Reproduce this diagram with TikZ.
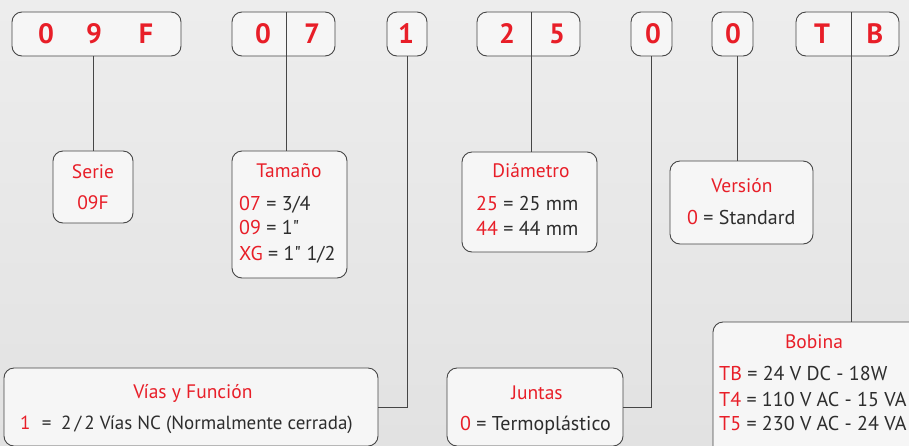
\documentclass[tikz,border=0pt]{standalone}
\usepackage{fontspec}
\setmainfont{PT Sans}
\usepackage{xcolor}
\definecolor{codered}{RGB}{232,30,40}
\definecolor{codetext}{RGB}{45,45,45}
\definecolor{boxline}{RGB}{70,70,70}
\definecolor{boxfill}{RGB}{246,246,246}
\definecolor{bgtop}{RGB}{237,237,237}
\definecolor{bgbot}{RGB}{226,226,226}
\tikzset{
  codebox/.style={draw=boxline, fill=boxfill, line width=0.9pt, rounded corners=10pt, minimum height=44pt, inner sep=0pt},
  infobox/.style={draw=boxline, fill=boxfill, line width=0.9pt, rounded corners=10pt, inner sep=0pt},
  digit/.style={text=codered, font=\fontsize{28}{30}\selectfont\bfseries},
  title/.style={text=codered, font=\fontsize{19.5}{22}\selectfont, anchor=base, inner sep=0pt},
  entry/.style={text=codetext, font=\fontsize{20}{22}\selectfont, anchor=base west, inner sep=0pt},
  link/.style={draw=boxline, line width=0.9pt}
}
\newcommand{\rd}[1]{\textcolor{codered}{#1}}
\begin{document}
\begin{tikzpicture}[x=1pt, y=-1pt]
  \useasboundingbox (0,0) rectangle (909,445);
  \clip (0,0) rectangle (909,445);
  \shade[top color=bgtop, bottom color=bgbot] (0,0) rectangle (909,445);

  \node[codebox, minimum width=169pt] (t09F) at (96.5,34) {};
  \node[codebox, minimum width=103pt] (t07) at (283.5,34) {};
  \node[codebox, minimum width=40pt] (t1) at (407,34) {};
  \node[codebox, minimum width=103pt] (t25) at (528.5,34) {};
  \node[codebox, minimum width=41pt] (t0a) at (651.5,34) {};
  \node[codebox, minimum width=41pt] (t0b) at (732.5,34) {};
  \node[codebox, minimum width=103pt] (tTB) at (847.5,34) {};
  \coordinate (d07) at (286,12);
  \coordinate (d25) at (531,12);
  \coordinate (dTB) at (851,12);
  \coordinate (d0b) at (737,56);

  \node[digit] (c1) at (46,34) {0}; \node[digit] (c2) at (94,34) {9}; \node[digit] (c3) at (146,34) {F};
  \node[digit] (c4) at (263,34) {0}; \node[digit] (c5) at (312,34) {7};
  \node[digit] (c6) at (406,34) {1};
  \node[digit] (c7) at (507,34) {2}; \node[digit] (c8) at (557,34) {5};
  \node[digit] (c9) at (653,34) {0};
  \node[digit] (c10) at (733,34) {0};
  \node[digit] (c11) at (822,34) {T}; \node[digit] (c12) at (875,34) {B};

  \node[infobox, minimum width=80pt, minimum height=72pt] (serie) at (93,187) {};
  \node[infobox, minimum width=115pt, minimum height=127pt] (tam) at (289.5,214.5) {};
  \node[infobox, minimum width=135pt, minimum height=100pt] (diam) at (529.5,202) {};
  \node[infobox, minimum width=143pt, minimum height=83pt] (vers) at (741.5,202.5) {};
  \node[infobox, minimum width=374pt, minimum height=78pt] (vias) at (191,407) {};
  \node[infobox, minimum width=176pt, minimum height=78pt] (junt) at (535,407) {};
  \node[infobox, minimum width=212pt, minimum height=138pt] (bob) at (819,391) {};

  \draw[link] (t09F.south -| serie.north) -- (serie.north);
  \draw[link] (d07) -- (d07 |- tam.north);
  \draw[link] (t1.south) |- (vias.east);
  \draw[link] (d25) -- (d25 |- diam.north);
  \draw[link] (t0a.south) |- (junt.east);
  \draw[link] (d0b) -- (d0b |- vers.north);
  \draw[link] (dTB) -- (dTB |- bob.north);

  \node[title] (serieT) at (93,178) {Serie};
  \node[title] (serieL) at (93,209) {09F};

  \node[title] (tamT) at (289,177) {Tamaño};
  \node[entry] (tamA) at (239,210) {\rd{07} = 3/4};
  \node[entry] (tamB) at (239,234) {\rd{09} = 1\textquotedbl};
  \node[entry] (tamC) at (239,260) {\rd{XG} = 1\textquotedbl{} 1/2};

  \node[title] (diamT) at (531,177) {Diámetro};
  \node[entry] (diamA) at (476,210) {\rd{25} = 25 mm};
  \node[entry] (diamB) at (476,235) {\rd{44} = 44 mm};

  \node[title] (versT) at (742,192) {Versión};
  \node[entry] (versA) at (687,224) {\rd{0} = Standard};

  \node[title] (viasT) at (193,398) {Vías y Función};
  \node[entry, font=\fontsize{19}{22}\selectfont] (viasA) at (20,429) {\rd{1}\hspace{0.6em}=\hspace{0.5em}2\,/\,2 Vías NC (Normalmente cerrada)};

  \node[title] (juntT) at (537,399) {Juntas};
  \node[entry] (juntA) at (460,430) {\rd{0} = Termoplástico};

  \node[title] (bobT) at (814,348) {Bobina};
  \node[entry] (bobA) at (719,380) {\rd{TB} = 24 V DC - 18W};
  \node[entry] (bobB) at (719,406) {\rd{T4} = 110 V AC - 15 VA};
  \node[entry] (bobC) at (719,430) {\rd{T5} = 230 V AC - 24 VA};
\end{tikzpicture}
\end{document}
